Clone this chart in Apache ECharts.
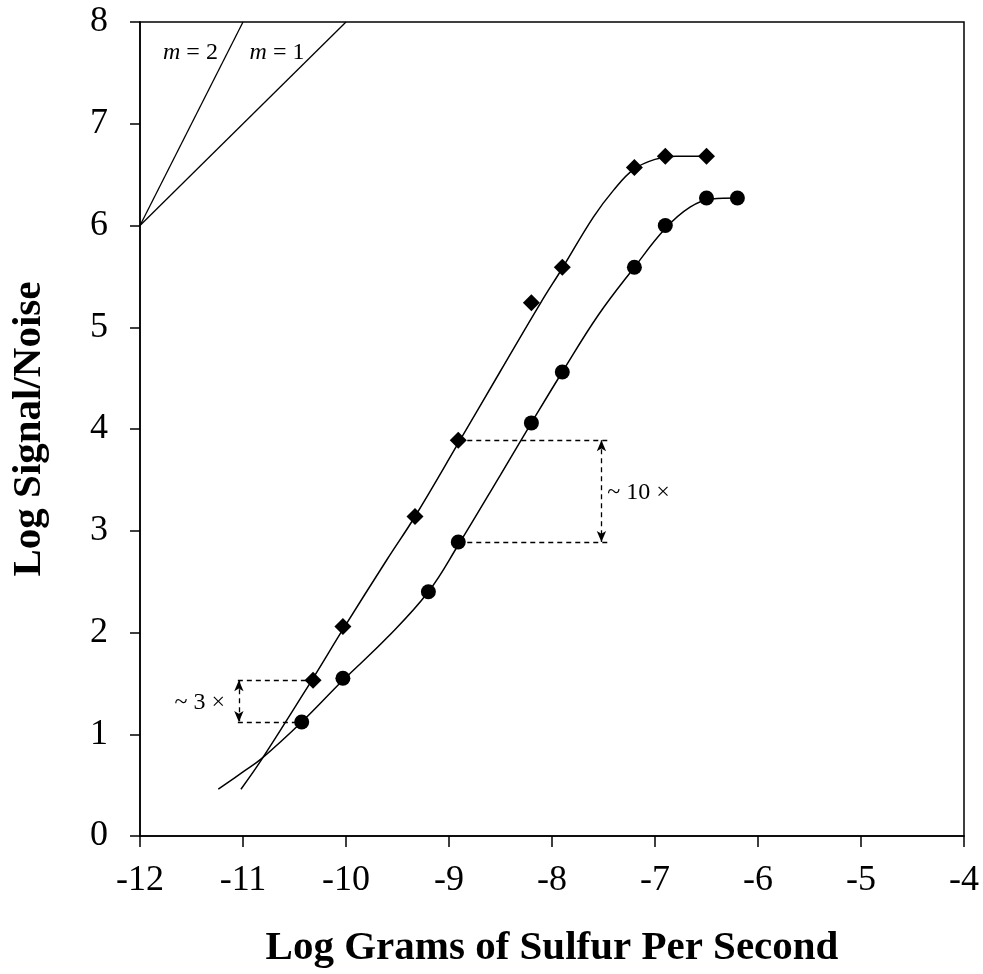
<!DOCTYPE html>
<html>
<head>
<meta charset="utf-8">
<title>Log Signal/Noise vs Log Grams of Sulfur Per Second</title>
<script src="https://cdn.jsdelivr.net/npm/echarts@6/dist/echarts.min.js"></script>
<style>
  html, body { margin: 0; padding: 0; background: #fff; }
  #chart { width: 983px; height: 974px; }
</style>
</head>
<body>
<div id="chart"></div>
<script>
// Measured responses: [log g S / s, log S/N]
const diamondPoints = [
  [-10.32, 1.53], [-10.03, 2.06], [-9.33, 3.14], [-8.91, 3.89], [-8.20, 5.24],
  [-7.90, 5.59], [-7.20, 6.57], [-6.90, 6.68], [-6.50, 6.68]
];
const circlePoints = [
  [-10.43, 1.12], [-10.03, 1.55], [-9.20, 2.40], [-8.91, 2.89], [-8.20, 4.06],
  [-7.90, 4.56], [-7.20, 5.59], [-6.90, 6.00], [-6.50, 6.27], [-6.20, 6.27]
];

// Fitted response curves
const diamondFit = [
  [-11.02, 0.46], [-10.82, 0.75], [-10.32, 1.55], [-10.03, 2.03], [-9.60, 2.72],
  [-9.33, 3.14], [-8.91, 3.86], [-8.50, 4.57], [-8.11, 5.24], [-7.90, 5.58],
  [-7.60, 6.08], [-7.40, 6.35], [-7.21, 6.55], [-7.00, 6.65], [-6.80, 6.68],
  [-6.49, 6.68]
];
const circleFit = [
  [-11.24, 0.46], [-11.00, 0.63], [-10.82, 0.76], [-10.43, 1.12], [-10.03, 1.53],
  [-9.60, 1.95], [-9.20, 2.40], [-8.91, 2.86], [-8.50, 3.55], [-8.20, 4.06],
  [-7.90, 4.56], [-7.55, 5.12], [-7.20, 5.59], [-6.90, 5.97], [-6.66, 6.18],
  [-6.45, 6.26], [-6.20, 6.27]
];

// Reference slopes from (-12, 6)
const slope2Line = [[-12, 6], [-11, 8]];
const slope1Line = [[-12, 6], [-10, 8]];

const xTicks = { min: -12, max: -4, step: 1 };
const yTicks = { min: 0, max: 8, step: 1 };

const serif = '"Liberation Serif", "Times New Roman", serif';
const black = '#000';

const chart = echarts.init(document.getElementById('chart'), null, { renderer: 'canvas' });

const dash = { color: black, width: 1.3, type: [5, 4] };

function hLine(x1, x2, y) {
  return [{ coord: [x1, y] }, { coord: [x2, y] }];
}
function arrowLine(x, y1, y2) {
  return [{ coord: [x, y1] }, { coord: [x, y2] }];
}

const option = {
  backgroundColor: '#fff',
  animation: false,
  grid: {
    left: 140, right: 19, top: 22, bottom: 137,
    show: true, borderColor: black, borderWidth: 1.5
  },
  xAxis: {
    type: 'value',
    min: xTicks.min, max: xTicks.max, interval: xTicks.step,
    name: 'Log Grams of Sulfur Per Second',
    nameLocation: 'middle',
    nameGap: 92,
    nameTextStyle: { fontFamily: serif, fontWeight: 'bold', fontSize: 41, color: black },
    axisLine: { show: true, onZero: false, lineStyle: { color: black, width: 1.5 } },
    axisTick: { show: true, inside: false, length: 11, lineStyle: { color: black, width: 1.5 } },
    axisLabel: { fontFamily: serif, fontSize: 36, color: black, margin: 27 },
    splitLine: { show: false }
  },
  yAxis: {
    type: 'value',
    min: yTicks.min, max: yTicks.max, interval: yTicks.step,
    name: 'Log Signal/Noise',
    nameLocation: 'middle',
    nameGap: 90,
    nameTextStyle: { fontFamily: serif, fontWeight: 'bold', fontSize: 41, color: black },
    axisLine: { show: true, onZero: false, lineStyle: { color: black, width: 1.5 } },
    axisTick: { show: true, inside: false, length: 10, lineStyle: { color: black, width: 1.5 } },
    axisLabel: { fontFamily: serif, fontSize: 36, color: black, margin: 32 },
    splitLine: { show: false }
  },
  series: [
    {
      name: 'slope 2',
      type: 'line',
      data: slope2Line,
      showSymbol: false,
      lineStyle: { color: black, width: 1.3 },
      silent: true, z: 2
    },
    {
      name: 'slope 1',
      type: 'line',
      data: slope1Line,
      showSymbol: false,
      lineStyle: { color: black, width: 1.3 },
      silent: true, z: 2
    },
    {
      name: 'diamond fit',
      type: 'line',
      data: diamondFit,
      smooth: 0.4,
      showSymbol: false,
      lineStyle: { color: black, width: 1.5 },
      silent: true, z: 3
    },
    {
      name: 'circle fit',
      type: 'line',
      data: circleFit,
      smooth: 0.4,
      showSymbol: false,
      lineStyle: { color: black, width: 1.5 },
      silent: true, z: 3
    },
    {
      name: 'annotations',
      type: 'line',
      data: [],
      z: 4,
      markLine: {
        silent: true,
        animation: false,
        label: { show: false },
        symbol: ['none', 'none'],
        lineStyle: dash,
        data: [
          hLine(-11.05, diamondPoints[0][0], diamondPoints[0][1]),
          hLine(-11.05, circlePoints[0][0], circlePoints[0][1]),
          hLine(diamondPoints[3][0], -7.46, diamondPoints[3][1]),
          hLine(circlePoints[3][0], -7.46, circlePoints[3][1])
        ]
      }
    },
    {
      name: 'ratio arrows',
      type: 'line',
      data: [],
      z: 4,
      markLine: {
        silent: true,
        animation: false,
        label: { show: false },
        symbol: ['arrow', 'arrow'],
        symbolSize: [7, 11],
        lineStyle: dash,
        itemStyle: { color: black },
        data: [
          arrowLine(-11.04, diamondPoints[0][1], circlePoints[0][1]),
          arrowLine(-7.52, diamondPoints[3][1], circlePoints[3][1])
        ]
      }
    },
    {
      name: 'labels',
      type: 'line',
      data: [],
      z: 6,
      markPoint: {
        silent: true,
        animation: false,
        symbol: 'circle',
        symbolSize: 1,
        itemStyle: { color: 'rgba(0,0,0,0)' },
        label: {
          show: true,
          position: 'inside',
          fontFamily: serif,
          fontSize: 24,
          color: black,
          rich: {
            it: { fontFamily: serif, fontSize: 24, fontStyle: 'italic', color: black },
            n: { fontFamily: serif, fontSize: 24, color: black }
          }
        },
        data: [
          { coord: [-11.51, 7.70], label: { formatter: '{it|m}{n| = 2}' } },
          { coord: [-10.67, 7.70], label: { formatter: '{it|m}{n| = 1}' } },
          { coord: [-11.42, 1.31], label: { formatter: '~ 3 \u00d7' } },
          { coord: [-7.16, 3.37], label: { formatter: '~ 10 \u00d7' } }
        ]
      }
    },
    {
      name: 'diamond',
      type: 'scatter',
      data: diamondPoints,
      symbol: 'diamond',
      symbolSize: [17, 17],
      itemStyle: { color: black, opacity: 1 },
      z: 5
    },
    {
      name: 'circle',
      type: 'scatter',
      data: circlePoints,
      symbol: 'circle',
      symbolSize: 15,
      itemStyle: { color: black, opacity: 1 },
      z: 5
    }
  ]
};

chart.setOption(option);
</script>
</body>
</html>
